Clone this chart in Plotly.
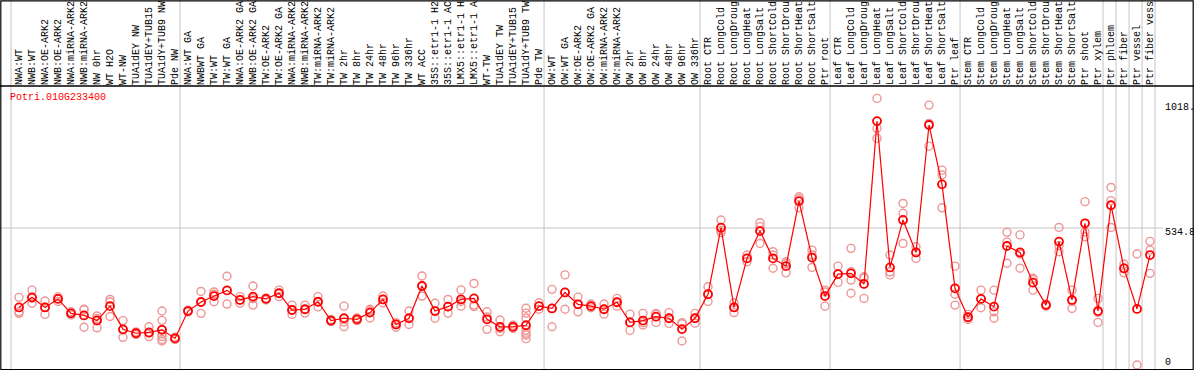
import plotly.graph_objects as go

categories = [
    "NWA:WT", "NWB:WT", "NWA:OE-ARK2", "NWB:OE-ARK2", "NWA:miRNA-ARK2", "NWB:miRNA-ARK2",
    "NW 0hr", "WT H2O", "WT-NW", "TUA1dEY NW", "TUA1dEY+TUB15", "TUA1dY+TUB9 NW", "Pde NW",
    "NWA:WT GA", "NWBWT GA", "TW:WT", "TW:WT GA", "NWA:OE-ARK2 GA", "NWB:OE-ARK2 GA",
    "TW:OE-ARK2", "TW:OE-ARK2 GA", "NWA:miRNA-ARK2", "NWB:miRNA-ARK2", "TW:miRNA-ARK2",
    "TW:miRNA-ARK2", "TW 2hr", "TW 8hr", "TW 24hr", "TW 48hr", "TW 96hr", "TW 336hr",
    "WT ACC", "35S::etr1-1 H2", "35S::etr1-1 AC", "LMX5::etr1-1 H", "LMX5::etr1-1 A",
    "WT-TW", "TUA1dEY TW", "TUA1dEY+TUB15", "TUA1dY+TUB9 TW", "Pde TW",
    "OW:WT", "OW:WT GA", "OW:OE-ARK2", "OW:OE-ARK2 GA", "OW:miRNA-ARK2", "OW:miRNA-ARK2",
    "OW 2hr", "OW 8hr", "OW 24hr", "OW 48hr", "OW 96hr", "OW 336hr",
    "Root CTR", "Root LongCold", "Root LongDroug", "Root LongHeat", "Root LongSalt",
    "Root ShortCold", "Root ShortDrou", "Root ShortHeat", "Root ShortSalt", "Ptr root",
    "Leaf CTR", "Leaf LongCold", "Leaf LongDroug", "Leaf LongHeat", "Leaf LongSalt",
    "Leaf ShortCold", "Leaf ShortDrou", "Leaf ShortHeat", "Leaf ShortSalt", "Ptr leaf",
    "Stem CTR", "Stem LongCold", "Stem LongDroug", "Stem LongHeat", "Stem LongSalt",
    "Stem ShortCold", "Stem ShortDrou", "Stem ShortHeat", "Stem ShortSalt", "Ptr shoot",
    "Ptr xylem", "Ptr phloem", "Ptr fiber", "Ptr vessel", "Ptr fiber vess",
]

group_sizes = [13, 28, 12, 10, 10, 11, 1, 1, 1, 1]

mean_values = [
    227, 266, 227, 260, 204, 196, 176, 232, 142, 127, 130, 140, 107,
    213, 248, 271, 293, 256, 269, 260, 282, 217, 220, 249, 176, 185, 181, 207,
    258, 161, 185, 310, 213, 230, 258, 262, 181, 152, 152, 158, 232,
    223, 285, 239, 232, 220, 247, 169, 176, 191, 185, 143, 185,
    278, 536, 227, 417, 523, 417, 387, 639, 420, 271,
    356, 359, 318, 949, 382, 566, 440, 934, 704, 301,
    189, 260, 230, 465, 440, 323, 236, 482, 256, 553, 213,
    623, 378, 221, 430,
]

replicate_values = [
    [266, 210, 204], [294, 262, 243], [252, 228, 200], [268, 260, 250], [210, 204, 198],
    [220, 150, 218], [194, 184, 178, 148], [258, 248, 192], [176, 140, 111], [132, 127, 122],
    [152, 128, 114, 128], [213, 177, 142, 124, 114, 103, 97], [112, 106, 103],
    [216, 210], [289, 248, 204], [287, 249, 278], [348, 240, 292], [269, 256, 243],
    [310, 236, 261], [264, 256], [294, 282, 269], [236, 217, 200], [236, 219, 205],
    [269, 249, 229], [180, 172], [232, 171, 152], [186, 176], [220, 214, 186],
    [271, 258, 245], [168, 161, 150], [213, 185, 161], [349, 310, 271], [243, 213, 185],
    [258, 230, 205], [295, 250, 232], [320, 236, 230], [210, 190, 142], [178, 146, 133],
    [158, 152, 146], [224, 205, 186, 139, 127, 106, 120], [245, 232, 220],
    [297, 223, 152], [353, 285, 220], [267, 239, 210], [240, 232, 226], [240, 220, 201],
    [262, 247, 232], [201, 169, 138], [204, 168, 159], [204, 200, 169], [207, 185, 165],
    [168, 164, 97], [204, 185, 166],
    [307, 278, 250], [566, 525, 517], [245, 229, 207], [430, 417, 404], [555, 540, 475],
    [443, 430, 379], [404, 397, 361], [656, 648, 613], [449, 430, 382], [294, 287, 232],
    [387, 358, 324], [456, 333, 282, 365], [346, 340, 262], [1037, 921, 882], [430, 365, 353],
    [630, 592, 475], [462, 440, 417], [1011, 940, 852], [759, 740, 613], [387, 278, 236],
    [200, 189, 180], [294, 260, 226], [294, 210, 185], [518, 480, 398], [508, 434, 379],
    [340, 335, 294], [240, 236, 232], [537, 466, 443], [294, 251, 223], [637, 520, 501],
    [262, 208, 169], [692, 641, 537], [395, 380, 361], [434, 4], [483, 449, 359],
]

gene_id = "Potri.010G233400"
y_tick_values = [1018, 534.8, 0]
y_tick_labels = ["1018.", "534.8", "0"]

W, H = 1194, 370
TOP = 86
BOTTOM = 1
PLOT_H = H - TOP - BOTTOM
FONT = "Liberation Mono, DejaVu Sans Mono, monospace"
RED = "#ff0000"
PINK = "rgb(238,150,150)"
GRAY = "#c4c4c4"

x_idx = list(range(len(categories)))
rep_x, rep_y = [], []
for i, reps in enumerate(replicate_values):
    for v in reps:
        rep_x.append(i)
        rep_y.append(v)

fig = go.Figure()
fig.add_trace(go.Scatter(
    x=rep_x, y=rep_y, mode="markers",
    marker=dict(symbol="circle-open", size=8, color=PINK, line=dict(width=1.4, color=PINK)),
    showlegend=False, hoverinfo="skip", cliponaxis=False,
))
fig.add_trace(go.Scatter(
    x=x_idx, y=mean_values, mode="lines+markers",
    line=dict(color=RED, width=1.2),
    marker=dict(symbol="circle-open", size=8, color=RED, line=dict(width=1.8, color=RED)),
    showlegend=False, cliponaxis=False,
))

# pixel mapping: first category at x=19px, 13 px per category
px_per_cat = 13.0
x0_px = 19.0
xmin = -x0_px / px_per_cat
xmax = xmin + W / px_per_cat

# y mapping: value 0 at y=366 px, 534.8 at y=228 px
zero_px = 366.0
scale = (366.0 - 228.0) / 534.8
ymax = (zero_px - TOP) / scale
ymin = ymax - PLOT_H / scale

shapes = []
top_paper = 1 + TOP / PLOT_H
# group separators
bounds = [-0.5]
acc = 0
for g in group_sizes:
    acc += g
    bounds.append(acc - 0.5)
for b in bounds:
    shapes.append(dict(type="line", xref="x", yref="paper", x0=b - 0.11, x1=b - 0.11,
                       y0=-0.01, y1=top_paper + 0.01, line=dict(color=GRAY, width=1), layer="below"))
# horizontal gridline at middle tick
shapes.append(dict(type="line", xref="paper", yref="y", x0=0, x1=1163 / W,
                   y0=y_tick_values[1], y1=y_tick_values[1], line=dict(color=GRAY, width=1), layer="below"))
# frame
shapes.append(dict(type="rect", xref="paper", yref="paper", x0=0.8 / W, x1=1 - 0.8 / W,
                   y0=-0.5 / PLOT_H, y1=top_paper - 0.8 / PLOT_H, line=dict(color="black", width=1.2)))
shapes.append(dict(type="line", xref="paper", yref="paper", x0=0, x1=1,
                   y0=1, y1=1, line=dict(color="black", width=1.5)))

annotations = [dict(text=gene_id, xref="paper", yref="paper", x=8 / W, y=1 - 4 / PLOT_H,
                    xanchor="left", yanchor="top", showarrow=False,
                    font=dict(family=FONT, size=10, color=RED))]
yshifts = [-4, -4, 4]
for v, t, s in zip(y_tick_values, y_tick_labels, yshifts):
    annotations.append(dict(text=t, xref="paper", yref="y", x=1163 / W, y=v, xanchor="left",
                            yanchor="middle", yshift=s, showarrow=False,
                            font=dict(family=FONT, size=10, color="black")))

fig.update_layout(
    width=W, height=H,
    margin=dict(l=0, r=0, t=TOP, b=BOTTOM, pad=0),
    paper_bgcolor="white", plot_bgcolor="white",
    xaxis=dict(range=[xmin, xmax], side="top", tickmode="array", tickvals=x_idx,
               ticktext=categories, tickangle=-90, showgrid=False, zeroline=False,
               showline=False, ticks="", ticklen=0,
               tickfont=dict(family=FONT, size=10, color="black"), fixedrange=True),
    yaxis=dict(range=[ymin, ymax], showticklabels=False, showgrid=False, zeroline=False,
               showline=False, fixedrange=True),
    shapes=shapes, annotations=annotations, showlegend=False,
)

fig.write_html("out.html", config={"displayModeBar": False},
               post_script="document.body.style.margin='0';document.body.style.padding='0';"
                           "document.body.style.overflow='hidden';")
